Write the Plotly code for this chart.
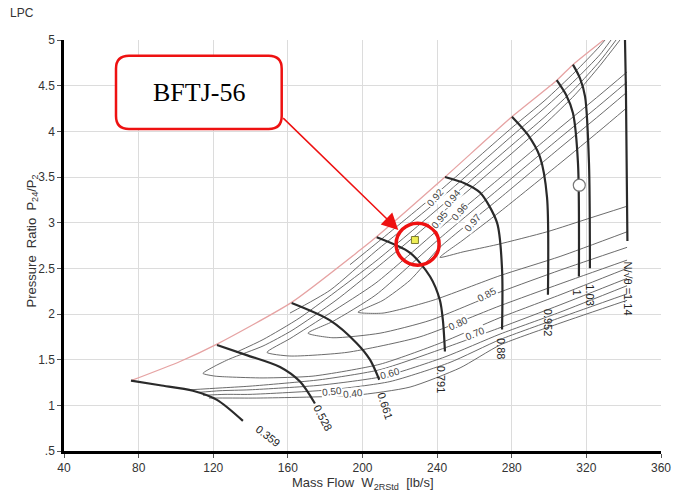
import plotly.graph_objects as go

# ---------------- data ----------------
# surge line
surge_w = [75.9, 102.2, 122.0, 162.2, 198.7, 207.2, 244.2, 280.1, 304.2, 312.8, 330.5]
surge_pr = [1.27, 1.48, 1.67, 2.13, 2.70, 2.84, 3.50, 4.16, 4.56, 4.73, 5.02]

# corrected speed lines N/sqrt(theta)
n0359_w = [75.9, 91.5, 109.1, 122.0, 135.9]
n0359_pr = [1.27, 1.22, 1.16, 1.06, 0.83]
n0528_w = [122.0, 137.9, 155.8, 166.5, 174.5]
n0528_pr = [1.66, 1.55, 1.42, 1.26, 1.02]
n0661_w = [162.0, 182.6, 196.9, 204.0, 209.0]
n0661_pr = [2.12, 1.93, 1.68, 1.50, 1.28]
n0791_w = [207.6, 225.5, 236.2, 241.5, 243.1, 244.2]
n0791_pr = [2.84, 2.67, 2.41, 2.15, 1.93, 1.59]
n088_w = [244.2, 254.9, 263.0, 272.1, 274.8, 274.8]
n088_pr = [3.50, 3.43, 3.33, 3.00, 2.49, 1.83]
n0952_w = [280.1, 288.7, 295.1, 298.9, 299.4]
n0952_pr = [4.16, 3.96, 3.72, 3.28, 2.21]
n100_w = [304.1, 309.1, 312.8, 315.5, 316.0]
n100_pr = [4.56, 4.40, 4.20, 3.65, 2.41]
n103_w = [312.8, 316.6, 319.3, 321.4, 321.9]
n103_pr = [4.73, 4.58, 4.38, 3.65, 2.50]
n114_w = [340.7, 341.2, 342.0]
n114_pr = [5.00, 4.45, 2.80]

speed_text = ["0.359", "0.528", "0.661", "0.791", "0.88", "0.952", "1", "1.03", "N/√θ =1.14"]
speed_text_w = [149.3, 178.8, 212.1, 242.1, 274.6, 299.6, 315.2, 322.2, 342.3]
speed_text_pr = [0.66, 0.86, 0.99, 1.28, 1.62, 1.90, 2.23, 2.21, 2.28]
speed_text_angle = [38, 62, 72, 90, 90, 90, 90, 90, 90]

# efficiency contours
eff_t1_w = [338.0, 327.3, 313.9, 297.8, 280.1, 263.0, 241.5, 225.5, 207.2, 185.8, 162.2, 146.7, 129.0, 120.9, 114.5,
            120.9, 129.0, 146.7, 173.5, 209.4, 241.5, 273.7, 305.9, 341.8]
eff_t1_pr = [5.00, 4.72, 4.40, 4.08, 3.76, 3.46, 3.09, 2.81, 2.50, 2.15, 1.82, 1.65, 1.51, 1.43, 1.35,
             1.32, 1.31, 1.30, 1.32, 1.45, 1.68, 1.96, 2.21, 2.50]
eff_t2_w = [341.8, 327.3, 305.9, 273.7, 241.5, 207.2, 182.6, 161.1, 148.8,
            161.1, 191.7, 230.8, 273.7, 305.9, 341.8]
eff_t2_pr = [4.65, 4.40, 4.04, 3.49, 2.94, 2.34, 2.01, 1.73, 1.58,
             1.54, 1.58, 1.75, 2.09, 2.33, 2.59]
eff_t3_w = [341.8, 327.3, 305.9, 273.7, 241.5, 207.2, 184.2, 170.8,
            184.2, 209.4, 236.2, 273.7, 305.9, 341.8]
eff_t3_pr = [4.54, 4.29, 3.93, 3.38, 2.83, 2.21, 1.92, 1.79,
             1.74, 1.79, 1.93, 2.24, 2.48, 2.73]
eff_t4_w = [341.8, 327.3, 305.9, 273.7, 241.5, 225.5, 211.0, 197.6,
            211.0, 237.8, 273.7, 305.9, 341.8]
eff_t4_pr = [4.43, 4.18, 3.82, 3.27, 2.73, 2.37, 2.15, 2.02,
             2.01, 2.15, 2.42, 2.63, 2.90]
eff_t5_w = [341.8, 327.3, 305.9, 273.7, 253.9, 241.5,
            253.9, 272.1, 298.9, 321.9, 341.8]
eff_t5_pr = [4.26, 4.01, 3.65, 3.12, 2.81, 2.62,
             2.68, 2.76, 2.90, 3.05, 3.18]
eff_n1_w = [132.2, 146.7, 166.5, 207.2, 241.5, 280.1, 297.8, 313.9, 327.3, 335.9]
eff_n1_pr = [1.58, 1.72, 1.96, 2.58, 3.17, 3.85, 4.16, 4.47, 4.77, 5.00]
eff_n2_w = [161.1, 182.6, 207.2, 241.5, 280.1, 297.8, 313.9, 327.3, 333.2]
eff_n2_pr = [2.01, 2.26, 2.69, 3.26, 3.95, 4.26, 4.56, 4.84, 5.00]
eff_n3_w = [193.3, 207.2, 241.5, 280.1, 297.8, 313.9, 326.2, 330.0]
eff_n3_pr = [2.54, 2.77, 3.35, 4.04, 4.34, 4.65, 4.91, 5.00]
eff_f1_w = [107.5, 123.6, 139.7, 177.2, 209.4, 241.5, 273.7, 305.9, 341.8]
eff_f1_pr = [1.17, 1.19, 1.21, 1.28, 1.39, 1.61, 1.85, 2.10, 2.39]
eff_f2_w = [111.3, 123.6, 139.7, 177.2, 212.1, 244.2, 273.7, 305.9, 341.8]
eff_f2_pr = [1.14, 1.16, 1.17, 1.22, 1.32, 1.53, 1.78, 2.02, 2.31]
eff_f3_w = [114.5, 126.3, 139.7, 182.6, 214.7, 246.9, 273.7, 305.9, 341.8]
eff_f3_pr = [1.11, 1.12, 1.12, 1.17, 1.26, 1.47, 1.72, 1.96, 2.22]
eff_f4_w = [117.7, 129.0, 145.1, 196.0, 225.5, 252.3, 273.7, 305.9, 341.8]
eff_f4_pr = [1.08, 1.08, 1.08, 1.11, 1.20, 1.41, 1.66, 1.90, 2.15]

eff_text = ["0.92", "0.94", "0.95", "0.96", "0.97", "0.85", "0.80", "0.70", "0.60", "0.50", "0.40"]
eff_text_w = [238.9, 248.0, 241.5, 252.3, 259.2, 266.7, 251.2, 260.3, 214.7, 183.6, 194.9]
eff_text_pr = [3.28, 3.27, 3.03, 3.12, 3.00, 2.21, 1.90, 1.79, 1.35, 1.15, 1.13]
eff_text_angle = [-50, -50, -50, -50, -50, -28, -25, -22, -15, -6, -6]

# operating points
design_w, design_pr = [316.2], [3.41]
bftj_w, bftj_pr = [228.1], [2.81]

x_ticks = [40, 80, 120, 160, 200, 240, 280, 320, 360]
y_ticks = [0.5, 1, 1.5, 2, 2.5, 3, 3.5, 4, 4.5, 5]
y_tick_text = [".5", "1", "1.5", "2", "2.5", "3", "3.5", "4", "4.5", "5"]

# ---------------- figure ----------------
fig = go.Figure()

contour_style = dict(color="#5a5a5a", width=0.9, shape="spline", smoothing=0.6)
for w, pr in [(eff_t1_w, eff_t1_pr), (eff_t2_w, eff_t2_pr), (eff_t3_w, eff_t3_pr),
              (eff_t4_w, eff_t4_pr), (eff_t5_w, eff_t5_pr), (eff_n1_w, eff_n1_pr),
              (eff_n2_w, eff_n2_pr), (eff_n3_w, eff_n3_pr), (eff_f1_w, eff_f1_pr),
              (eff_f2_w, eff_f2_pr), (eff_f3_w, eff_f3_pr), (eff_f4_w, eff_f4_pr)]:
    fig.add_trace(go.Scatter(x=w, y=pr, mode="lines", line=contour_style,
                             hoverinfo="skip", showlegend=False))

fig.add_trace(go.Scatter(x=surge_w, y=surge_pr, mode="lines",
                         line=dict(color="#e6a3a3", width=1.3, shape="spline", smoothing=0.6),
                         hoverinfo="skip", showlegend=False))

speed_style = dict(color="#2a2a2a", width=2.2, shape="spline", smoothing=0.8)
for w, pr in [(n0359_w, n0359_pr), (n0528_w, n0528_pr), (n0661_w, n0661_pr),
              (n0791_w, n0791_pr), (n088_w, n088_pr), (n0952_w, n0952_pr),
              (n100_w, n100_pr), (n103_w, n103_pr), (n114_w, n114_pr)]:
    fig.add_trace(go.Scatter(x=w, y=pr, mode="lines", line=speed_style,
                             hoverinfo="skip", showlegend=False))

fig.add_trace(go.Scatter(x=design_w, y=design_pr, mode="markers",
                         marker=dict(size=12, color="white", line=dict(color="#777777", width=1.2)),
                         hoverinfo="skip", showlegend=False))
fig.add_trace(go.Scatter(x=bftj_w, y=bftj_pr, mode="markers",
                         marker=dict(size=7, symbol="square", color="#eeee55",
                                     line=dict(color="#7a7a30", width=1)),
                         hoverinfo="skip", showlegend=False))

annotations = []
for t, w, pr, a in zip(eff_text, eff_text_w, eff_text_pr, eff_text_angle):
    annotations.append(dict(x=w, y=pr, text=t, textangle=a, showarrow=False,
                            font=dict(size=10, color="#444444", family="Liberation Sans, Arial"),
                            bgcolor="white", borderpad=0))
for t, w, pr, a in zip(speed_text, speed_text_w, speed_text_pr, speed_text_angle):
    annotations.append(dict(x=w, y=pr, text=t, textangle=a, showarrow=False,
                            font=dict(size=11, color="#222222", family="Liberation Sans, Arial")))

# callout arrow towards the BFTJ-56 point
annotations.append(dict(x=219.2, y=2.92, ax=-116.6, ay=-113.3, axref="pixel", ayref="pixel",
                        text="", showarrow=True, arrowhead=2, arrowsize=2.2, arrowwidth=1.5,
                        arrowcolor="#ee1111", standoff=0))
annotations.append(dict(xref="paper", yref="paper", x=0.2261, y=0.8725, xanchor="center",
                        yanchor="middle", text="BFTJ-56", showarrow=False,
                        font=dict(size=26, color="black", family="Liberation Serif, Times New Roman, serif")))

# axis titles and corner tag
annotations.append(dict(xref="paper", yref="paper", x=0.5, y=-0.079, xanchor="center",
                        yanchor="middle", text="Mass Flow  W<sub>2RStd</sub>  [lb/s]", showarrow=False,
                        font=dict(size=13, color="#333333", family="Liberation Sans, Arial")))
annotations.append(dict(xref="paper", yref="paper", x=-0.0536, y=0.51, xanchor="center",
                        yanchor="middle", textangle=-90,
                        text="Pressure  Ratio  P<sub>24</sub>/P<sub>2</sub>", showarrow=False,
                        font=dict(size=13, color="#333333", family="Liberation Sans, Arial")))
annotations.append(dict(xref="paper", yref="paper", x=-0.0938, y=1.0657, xanchor="left",
                        yanchor="middle", text="LPC", showarrow=False,
                        font=dict(size=12, color="#333333", family="Liberation Sans, Arial")))

r = 13
bx0, bx1, by0, by1 = 52, 217.7, -15.7, -89
box_path = (f"M {bx0 + r},{by0} L {bx1 - r},{by0} Q {bx1},{by0} {bx1},{by0 - r} "
            f"L {bx1},{by1 + r} Q {bx1},{by1} {bx1 - r},{by1} L {bx0 + r},{by1} "
            f"Q {bx0},{by1} {bx0},{by1 + r} L {bx0},{by0 - r} Q {bx0},{by0} {bx0 + r},{by0} Z")

shapes = [
    dict(type="path", xref="paper", yref="paper", xsizemode="pixel", ysizemode="pixel",
         xanchor=0, yanchor=1, path=box_path, fillcolor="white",
         line=dict(color="#ee1111", width=2.5), layer="above"),
    dict(type="circle", xref="x", yref="y", xsizemode="pixel", ysizemode="pixel",
         xanchor=bftj_w[0], yanchor=bftj_pr[0], x0=-18.8, x1=24.2, y0=-25.2, y1=16.8,
         line=dict(color="#ee1111", width=3.5), layer="above"),
]

fig.update_layout(
    width=674, height=493,
    margin=dict(l=64, r=13, t=40, b=42),
    paper_bgcolor="white", plot_bgcolor="white",
    annotations=annotations, shapes=shapes,
    font=dict(family="Liberation Sans, Arial", size=12, color="#333333"),
)
fig.update_xaxes(range=[40, 360], tickvals=x_ticks, showgrid=True, gridcolor="#dcdcdc", gridwidth=1,
                 showline=True, linecolor="black", linewidth=2.5, ticks="outside", ticklen=4,
                 tickcolor="#555555", zeroline=False, automargin=False,
                 tickfont=dict(size=12, color="#333333"))
fig.update_yaxes(range=[0.5, 5], tickvals=y_ticks, ticktext=y_tick_text, showgrid=True,
                 gridcolor="#dcdcdc", gridwidth=1, showline=True, linecolor="black", linewidth=2.5,
                 ticks="outside", ticklen=4, tickcolor="#555555", zeroline=False, automargin=False,
                 tickfont=dict(size=12, color="#333333"))

fig.write_html("out.html")
